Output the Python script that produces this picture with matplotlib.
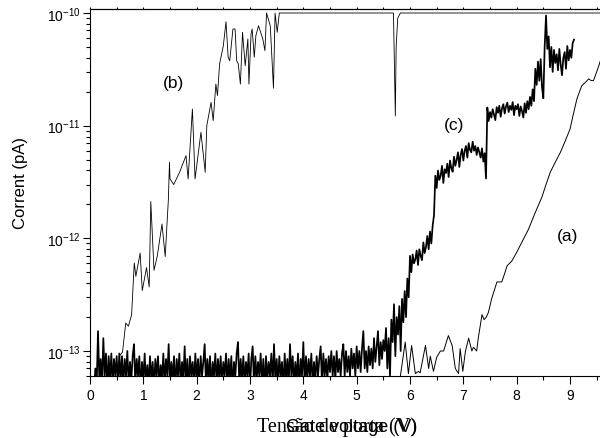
import numpy as np
import matplotlib
matplotlib.use('Agg')
import matplotlib.pyplot as plt
from matplotlib.ticker import LogLocator, MultipleLocator, LogFormatterSciNotation, NullFormatter

plt.rcParams['font.family'] = ['Liberation Sans', 'DejaVu Sans']
plt.rcParams['mathtext.fontset'] = 'custom'
plt.rcParams['mathtext.rm'] = 'Liberation Sans'
plt.rcParams['mathtext.it'] = 'Liberation Sans:italic'
plt.rcParams['mathtext.default'] = 'regular'
plt.rcParams['axes.unicode_minus'] = False

# current values are given in units of 1e-13
UNIT = 1e-13

# curve (c): evenly sampled from 0.075 V in 0.025 V steps
c_start = 0.075
c_step = 0.025
c_vals = [
    0.45, 0.7, 0.5, 1.5, 0.55, 0.85, 0.5, 1.3, 0.6, 0.95, 0.45, 0.9, 0.55, 0.95, 0.5, 0.85, 0.6, 0.9, 0.5, 0.95,
    0.55, 0.9, 0.5, 0.85, 0.6, 1.0, 0.5, 0.8, 0.55, 0.9, 1.15, 0.5, 0.85, 0.6, 0.9, 0.45, 0.8, 0.55, 0.95, 0.5,
    0.75, 0.5, 0.9, 0.55, 0.8, 0.45, 0.85, 0.6, 0.9, 0.5, 0.75, 0.55, 0.95, 0.5, 0.85, 0.6, 1.15, 0.5, 0.8, 0.55,
    0.9, 0.45, 0.85, 0.6, 0.95, 0.5, 0.8, 0.55, 1.1, 0.5, 0.85, 0.45, 0.9, 0.6, 0.8, 0.5, 0.95, 0.55, 0.85, 0.5,
    0.9, 0.6, 0.8, 1.15, 0.5, 0.85, 0.55, 0.9, 0.45, 0.8, 0.6, 0.95, 0.5, 0.85, 0.55, 0.9, 0.5, 0.8, 0.6, 0.95,
    0.5, 0.85, 0.55, 0.9, 0.45, 0.8, 0.6, 0.95, 1.2, 0.5, 0.85, 0.55, 0.9, 0.5, 0.8, 0.6, 0.95, 0.45, 0.85, 1.1,
    0.5, 0.9, 0.55, 0.8, 0.6, 0.95, 0.5, 0.85, 0.45, 0.9, 0.55, 0.8, 0.6, 0.95, 0.5, 1.15, 0.55, 0.85, 0.5, 0.9,
    0.6, 0.8, 0.45, 0.95, 0.55, 0.85, 0.5, 1.15, 0.6, 0.9, 0.5, 0.8, 0.55, 0.95, 0.45, 0.85, 0.6, 1.2, 0.5, 0.9,
    0.55, 0.85, 0.6, 0.95, 0.5, 0.8, 0.55, 0.9, 0.6, 0.85, 1.1, 0.5, 0.95, 0.6, 0.85, 0.55, 0.9, 0.65, 1.0, 0.6,
    0.9, 0.55, 1.0, 0.65, 0.85, 0.6, 0.95, 1.15, 0.6, 1.0, 0.65, 0.9, 0.6, 1.05, 0.7, 0.95, 0.6, 1.1, 0.7, 1.0,
    0.65, 1.05, 1.5, 0.7, 1.0, 0.65, 1.1, 0.75, 1.05, 0.7, 1.3, 0.8, 1.1, 1.5, 0.75, 1.2, 0.85, 1.25,
    1.0, 1.6, 0.7, 1.3, 0.6, 1.9, 1.2, 2.6, 0.9, 2.0, 1.4, 2.5, 1.0, 2.9, 1.8, 3.4, 2.0, 4.4, 3.0, 7.0,
    5.0, 7.2, 6.0, 6.5, 7.8, 5.8, 8.0, 7.0, 6.4, 9.2, 7.4, 8.4, 10.5, 8.0, 11.5, 9.0, 13, 16, 36, 28,
    40, 33, 36, 44, 31, 41, 38, 46, 35, 49, 42, 39, 53, 44, 50, 58, 43, 55, 62, 49,
    60, 66, 52, 70, 61, 58, 72, 60, 66, 55, 64, 58, 52, 63, 48, 57, 34, 145, 110, 132,
    118, 140, 125, 112, 146, 130, 150, 120, 142, 155, 128, 148, 160, 132, 150, 138, 162, 124, 150, 140,
    155, 122, 148, 135, 118, 158, 130, 165, 140, 180, 150, 210, 165, 320, 230, 370, 250, 390, 220, 175,
    500, 950, 480, 620, 330, 500, 300, 470, 360, 430, 310, 480, 350, 280, 400, 450, 320, 510, 380, 470,
    400, 540, 580,
]

# curve (a)
a_v = [5.60, 5.82, 5.91, 5.97, 6.03, 6.10, 6.16, 6.19, 6.29, 6.35, 6.38, 6.44, 6.50, 6.57, 6.63,
       6.72, 6.79, 6.85, 6.91, 6.94, 6.99, 7.04, 7.10, 7.16, 7.19, 7.25, 7.28, 7.35, 7.39, 7.43,
       7.47, 7.53, 7.63, 7.72, 7.77, 7.82, 7.91, 8.00, 8.13, 8.22, 8.35, 8.47, 8.55, 8.63, 8.72,
       8.82, 8.91, 9.00, 9.06, 9.13, 9.22, 9.28, 9.35, 9.40, 9.44, 9.50, 9.54, 9.57]
a_vals = [0.4, 0.6, 1.2, 0.63, 1.12, 0.63, 0.66, 0.64, 1.12, 0.7, 0.9, 0.66, 0.88, 1.0, 1.0,
          1.37, 1.12, 0.7, 0.63, 1.05, 0.66, 1.0, 1.3, 1.0, 1.08, 1.0, 1.3, 2.1, 1.9, 2.0,
          2.2, 2.9, 4.1, 4.1, 4.8, 5.7, 6.3, 7.5, 9.9, 12, 17, 23, 30, 38.6, 47,
          58, 73, 93, 125, 173, 226, 240, 260, 251, 251, 300, 340, 378]

# curve (b)
b_v = [0.55, 0.61, 0.67, 0.72, 0.78, 0.83, 0.86, 0.94, 0.98, 1.06, 1.11, 1.14, 1.20, 1.26, 1.35,
       1.41, 1.47, 1.49, 1.50, 1.57, 1.68, 1.80, 1.84, 1.92, 1.97, 2.08, 2.16, 2.19, 2.27, 2.31,
       2.36, 2.39, 2.43, 2.50, 2.55, 2.59, 2.62, 2.68, 2.72, 2.75, 2.78, 2.82, 2.86, 2.91, 2.96,
       2.98, 3.02, 3.04, 3.08, 3.11, 3.16, 3.24, 3.28, 3.31, 3.38, 3.44, 3.47, 3.51, 3.55, 5.69,
       5.725, 5.74, 5.77, 5.82, 9.57]
b_vals = [0.9, 0.98, 1.77, 1.66, 2.09, 6.05, 4.6, 7.4, 3.44, 5.5, 3.7, 21.2, 5.2, 6.9, 13.4,
          6.9, 22.4, 47.3, 33.7, 30, 38.6, 54.2, 33.7, 140.6, 33.7, 87.3, 38.6, 100, 161, 111,
          234, 185, 353, 513, 837, 405, 377, 721, 721, 377, 353, 234, 674, 340, 588,
          234, 651, 721, 405, 629, 771, 588, 463, 1000, 771, 215, 1000, 674, 1000, 1000,
          122, 500, 900, 1000, 1000]

c_x = c_start + c_step * np.arange(len(c_vals))

fig = plt.figure(figsize=(6.0, 4.39), dpi=100)
ax = fig.add_axes([90 / 600, 1 - 377 / 439, 510 / 600, 367 / 439])

ax.plot(c_x, np.array(c_vals) * UNIT, color='black', lw=1.25)
ax.plot(a_v, np.array(a_vals) * UNIT, color='black', lw=0.7)
ax.plot(b_v, np.array(b_vals) * UNIT, color='black', lw=0.6)

ax.set_yscale('log')
ax.set_xlim(0, 9.5625)
ax.set_ylim(6.0e-14, 1.085e-10)

ax.xaxis.set_major_locator(MultipleLocator(1))
ax.xaxis.set_minor_locator(MultipleLocator(0.5))
ax.yaxis.set_major_locator(LogLocator(base=10, numticks=10))
ax.yaxis.set_minor_locator(LogLocator(base=10, subs=np.arange(2, 10), numticks=20))
ax.yaxis.set_major_formatter(LogFormatterSciNotation())
ax.yaxis.set_minor_formatter(NullFormatter())

for s in ['left', 'bottom', 'top']:
    ax.spines[s].set_linewidth(0.8)
ax.spines['right'].set_visible(False)

ax.tick_params(axis='x', which='major', direction='out', length=5.5, width=0.8, labelsize=10, pad=3)
ax.tick_params(axis='x', which='minor', direction='out', length=3, width=0.8)
ax.tick_params(axis='y', which='major', direction='out', length=5, width=0.8, labelsize=10, pad=2)
ax.tick_params(axis='y', which='minor', direction='out', length=3, width=0.8)

sec = ax.secondary_xaxis('top')
sec.xaxis.set_major_locator(MultipleLocator(0.5))
sec.tick_params(direction='out', length=1.5, width=0.8, labeltop=False, labelbottom=False)
sec.spines['top'].set_linewidth(0.8)

ax.text(1.557, 2.41e-11, '(b)', fontsize=12.5, ha='center', va='center')
ax.text(6.83, 1.03e-11, '(c)', fontsize=12.5, ha='center', va='center')
ax.text(8.95, 1.06e-12, '(a)', fontsize=12.5, ha='center', va='center')

fig.text(417 / 600, 1 - 432 / 439, 'Tensão de porta (V)', family='Liberation Serif',
         fontsize=14.5, ha='right', va='baseline')
fig.text(417 / 600, 1 - 432 / 439, 'Gate voltage (V)', family='Liberation Sans',
         fontsize=13, ha='right', va='baseline')
fig.text(21 / 600, 1 - 183 / 439, 'Corrent (pA)', fontsize=12, rotation=90,
         ha='center', va='center')

fig.savefig('out.png', dpi=100)
